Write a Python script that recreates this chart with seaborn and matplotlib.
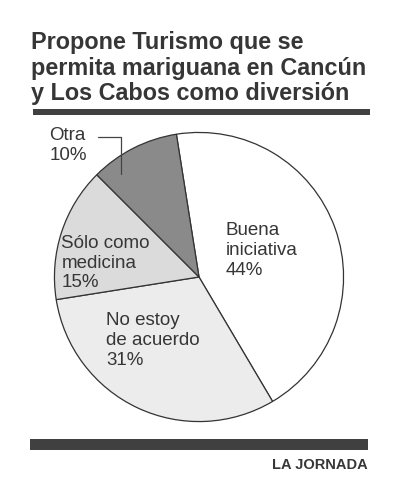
import matplotlib
matplotlib.use("Agg")
import matplotlib.pyplot as plt
from matplotlib.patches import Rectangle
import seaborn as sns

# Data
categories = ["Buena\niniciativa", "No estoy\nde acuerdo", "Sólo como\nmedicina", "Otra"]
shares = [44, 31, 15, 10]
slice_colors = ["#ffffff", "#ececec", "#dbdbdb", "#8a8a8a"]

title_lines = ["Propone Turismo que se",
               "permita mariguana en Cancún",
               "y Los Cabos como diversión"]
source = "LA JORNADA"

sns.set_theme(style="white")
plt.rcParams['font.family'] = ['Liberation Sans', 'DejaVu Sans']

W, H = 395, 500
ink = "#363636"
fig = plt.figure(figsize=(W / 100, H / 100), dpi=100)
fig.patch.set_facecolor("white")


def fx(px):
    return px / W


def fy(py):
    return 1 - py / H


# Title, one line per text so the baselines sit where they should
for line, base in zip(title_lines, [49, 75, 100]):
    fig.text(fx(31), fy(base), line, fontsize=16.8, fontweight="bold",
             color=ink, va="baseline", ha="left")

# Heavy rules above and below the pie
fig.add_artist(Rectangle((fx(33), fy(115)), fx(370) - fx(33), fy(109) - fy(115),
                         transform=fig.transFigure, color="#404040", lw=0))
fig.add_artist(Rectangle((fx(30), fy(450)), fx(368) - fx(30), fy(439) - fy(450),
                         transform=fig.transFigure, color="#404040", lw=0))

fig.text(fx(368), fy(469), source, fontsize=10.5, fontweight="bold",
         color=ink, ha="right", va="baseline")

# Pie axes: centre (199, 277) px, radius 146 px
cx, cy, r = 199, 277, 146
ax = fig.add_axes([fx(cx - r), fy(cy + r), 2 * r / W, 2 * r / H])
wedges, _ = ax.pie(shares, colors=slice_colors, startangle=99, counterclock=False,
                   wedgeprops=dict(edgecolor="#333333", linewidth=0.9))
ax.set_xlim(-1.01, 1.01)
ax.set_ylim(-1.01, 1.01)
ax.set_aspect("equal")
ax.axis("off")


def d(px, py):
    # pixel position -> pie data coordinates
    return (px - cx) / r, (cy - py) / r


label_spots = [(226, 250), (105, 341), (60, 263)]
for lab, pct, (px, py) in zip(categories[:3], shares[:3], label_spots):
    x, y = d(px, py)
    ax.text(x, y, f"{lab}\n{pct}%", fontsize=13.5, color=ink, ha="left",
            va="center", linespacing=1.22)

# "Otra" sits outside the pie with a leader line
x, y = d(48, 144)
ax.text(x, y, f"{categories[3]}\n{shares[3]}%", fontsize=13.5, color=ink,
        ha="left", va="center", linespacing=1.22, clip_on=False)
p1, p2, p3 = d(97, 136), d(120, 136), d(120, 173)
ax.plot([p1[0], p2[0], p3[0]], [p1[1], p2[1], p3[1]], color="#444444",
        lw=0.9, clip_on=False)

fig.savefig("out.png", dpi=100, facecolor="white")
